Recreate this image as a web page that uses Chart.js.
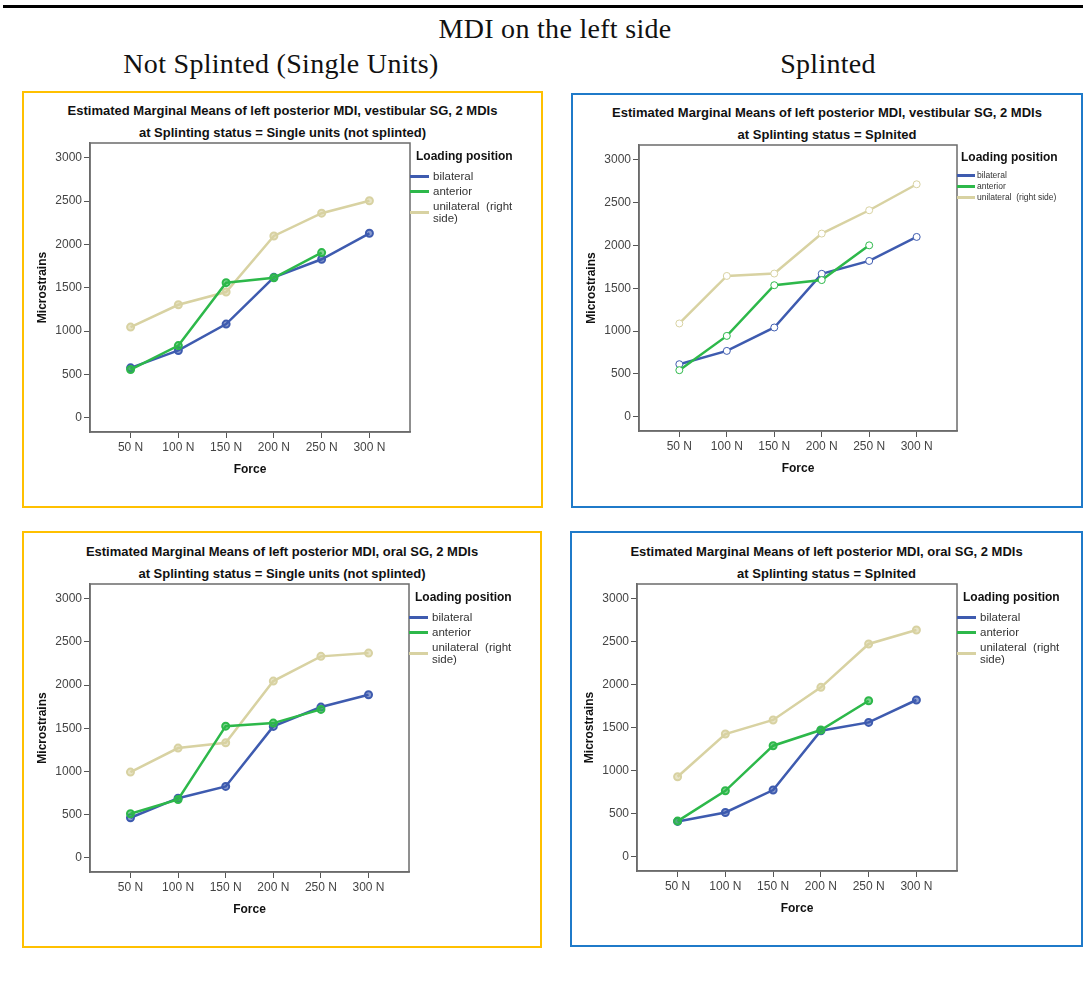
<!DOCTYPE html>
<html>
<head>
<meta charset="utf-8">
<script src="https://cdn.jsdelivr.net/npm/chart.js@4.4.1/dist/chart.umd.min.js"></script>
<style>
  body { margin: 0; background: #fff; }
  #page { position: relative; width: 1083px; height: 990px; overflow: hidden; background: #fff; }
  .bar { position: absolute; left: 3px; top: 5px; width: 1080px; height: 3px; background: #000; }
  .txt { position: absolute; white-space: nowrap; line-height: 1; transform: translate(-50%, -50%); }
  .serif { font-family: "Liberation Serif", "DejaVu Serif", serif; font-size: 28px; letter-spacing: 0.3px; color: #111; }
  .ptitle { font-family: "Liberation Sans", Arial, sans-serif; font-weight: bold; font-size: 13px; color: #111; }
  .panel { position: absolute; box-sizing: border-box; border: 2px solid; }
  canvas { position: absolute; }
  .leg { position: absolute; font-family: "Liberation Sans", Arial, sans-serif; color: #333; white-space: pre; }
  .leg-title { font-weight: bold; font-size: 12px; color: #111; }
  .leg-line { position: absolute; height: 3px; }
</style>
</head>
<body>
<div id="page">
  <div class="bar"></div>
  <div class="txt serif" style="left:555px; top:29px;">MDI on the left side</div>
  <div class="txt serif" style="left:281px; top:64px;">Not Splinted (Single Units)</div>
  <div class="txt serif" style="left:828px; top:64px;">Splinted</div>
</div>

<script>
// ---------------------------
// Data
// ---------------------------
const forceLabels = ['50 N', '100 N', '150 N', '200 N', '250 N', '300 N'];
const yTickValues = [0, 500, 1000, 1500, 2000, 2500, 3000];
const seriesNames = ['bilateral', 'anterior', 'unilateral  (right side)'];
const seriesColors = ['#3E5BAF', '#2DB84A', '#D8D2A2'];

// vestibular SG
const vestSingleBilateral = [575, 776, 1080, 1620, 1828, 2128];
const vestSingleAnterior = [556, 832, 1558, 1615, 1905];
const vestSingleUnilateral = [1046, 1303, 1450, 2097, 2360, 2503];

const vestSplintBilateral = [614, 769, 1042, 1668, 1818, 2098];
const vestSplintAnterior = [544, 944, 1535, 1595, 2000];
const vestSplintUnilateral = [1089, 1643, 1671, 2137, 2409, 2712];

// oral SG
const oralSingleBilateral = [463, 690, 826, 1521, 1745, 1888];
const oralSingleAnterior = [510, 675, 1524, 1559, 1718];
const oralSingleUnilateral = [992, 1270, 1332, 2046, 2332, 2370];

const oralSplintBilateral = [411, 515, 776, 1465, 1562, 1822];
const oralSplintAnterior = [415, 767, 1291, 1473, 1814];
const oralSplintUnilateral = [930, 1427, 1590, 1969, 2473, 2636];

// ---------------------------
// Panels
// ---------------------------
const panels = [
  {
    box: [22, 91, 521, 417], border: '#FFC000', plot: [90, 143, 320, 289], titleY: [110, 132],
    title: 'Estimated Marginal Means of left posterior MDI, vestibular SG, 2 MDIs',
    sub: 'at Splinting status = Single units (not splinted)',
    series: [vestSingleBilateral, vestSingleAnterior, vestSingleUnilateral],
    marker: { r: 3.5, w: 2, fill: true }, smallLegend: false
  },
  {
    box: [571, 93, 512, 415], border: '#1F7AC9', plot: [639, 145, 318, 286], titleY: [112, 134],
    title: 'Estimated Marginal Means of left posterior MDI, vestibular SG, 2 MDIs',
    sub: 'at Splinting status = Splnited',
    series: [vestSplintBilateral, vestSplintAnterior, vestSplintUnilateral],
    marker: { r: 3.5, w: 1, fill: false }, smallLegend: true
  },
  {
    box: [22, 531, 520, 417], border: '#FFC000', plot: [90, 584, 319, 288], titleY: [551, 573],
    title: 'Estimated Marginal Means of left posterior MDI, oral SG, 2 MDIs',
    sub: 'at Splinting status = Single units (not splinted)',
    series: [oralSingleBilateral, oralSingleAnterior, oralSingleUnilateral],
    marker: { r: 3.5, w: 2, fill: true }, smallLegend: false
  },
  {
    box: [570, 531, 513, 416], border: '#1F7AC9', plot: [637, 584, 320, 287], titleY: [551, 573],
    title: 'Estimated Marginal Means of left posterior MDI, oral SG, 2 MDIs',
    sub: 'at Splinting status = Splnited',
    series: [oralSplintBilateral, oralSplintAnterior, oralSplintUnilateral],
    marker: { r: 3.5, w: 2, fill: true }, smallLegend: false
  }
];

const page = document.getElementById('page');

function addDiv(cls, css, text) {
  const d = document.createElement('div');
  d.className = cls;
  d.style.cssText = css;
  if (text) d.textContent = text;
  page.appendChild(d);
  return d;
}

// plot frame (all four sides)
const framePlugin = {
  id: 'frame',
  beforeDatasetsDraw(chart) {
    const a = chart.chartArea, c = chart.ctx;
    c.save();
    c.strokeStyle = '#6b6b6b';
    c.lineWidth = 1.5;
    c.strokeRect(a.left, a.top, a.right - a.left, a.bottom - a.top);
    c.restore();
  }
};

function lighten(hex) {
  return hex + '99';
}

function buildPanel(p) {
  const [bx, by, bw, bh] = p.box;
  addDiv('panel', `left:${bx}px; top:${by}px; width:${bw}px; height:${bh}px; border-color:${p.border};`);
  const cx = bx + bw / 2;
  addDiv('txt ptitle', `left:${cx}px; top:${p.titleY[0]}px;`, p.title);
  addDiv('txt ptitle', `left:${cx}px; top:${p.titleY[1]}px;`, p.sub);

  const [pl, pt, pw, ph] = p.plot;
  const canvas = document.createElement('canvas');
  canvas.width = pw + 80;
  canvas.height = ph + 60;
  canvas.style.left = (pl - 70) + 'px';
  canvas.style.top = (pt - 10) + 'px';
  page.appendChild(canvas);

  const datasets = p.series.map((vals, k) => ({
    label: seriesNames[k],
    data: vals.map((v, i) => ({ x: i, y: v })),
    borderColor: seriesColors[k],
    borderWidth: 2.5,
    pointRadius: p.marker.r,
    pointBorderWidth: p.marker.w,
    pointBorderColor: seriesColors[k],
    pointBackgroundColor: p.marker.fill ? lighten(seriesColors[k]) : '#ffffff',
    tension: 0,
    order: k === 2 ? 3 : (k === 1 ? 1 : 2)
  }));

  new Chart(canvas, {
    type: 'line',
    data: { datasets: datasets },
    options: {
      responsive: false,
      animation: false,
      layout: { padding: { top: 10, right: 10, left: 0, bottom: 0 } },
      plugins: { legend: { display: false }, tooltip: { enabled: false } },
      scales: {
        x: {
          type: 'linear',
          min: -0.85,
          max: 5.85,
          afterBuildTicks: s => { s.ticks = forceLabels.map((_, i) => ({ value: i })); },
          afterFit: s => { s.height = 50; },
          ticks: {
            callback: v => forceLabels[v],
            autoSkip: false, maxRotation: 0,
            color: '#444', padding: 2.5,
            font: { family: 'Liberation Sans, Arial, sans-serif', size: 12 }
          },
          grid: { drawOnChartArea: false, tickLength: 6, color: '#555', lineWidth: 1 },
          border: { display: true, color: '#6b6b6b', width: 1.5 },
          title: {
            display: true, text: 'Force', color: '#111',
            font: { family: 'Liberation Sans, Arial, sans-serif', size: 12, weight: 'bold' },
            padding: { top: 0, bottom: 5 }
          }
        },
        y: {
          min: -165,
          max: 3170,
          afterBuildTicks: s => { s.ticks = yTickValues.map(v => ({ value: v })); },
          afterFit: s => { s.width = 70; },
          ticks: {
            callback: v => String(v),
            color: '#444', padding: 2,
            font: { family: 'Liberation Sans, Arial, sans-serif', size: 12 }
          },
          grid: { drawOnChartArea: false, tickLength: 6, color: '#555', lineWidth: 1 },
          border: { display: true, color: '#6b6b6b', width: 1.5 },
          title: {
            display: true, text: 'Microstrains', color: '#111',
            font: { family: 'Liberation Sans, Arial, sans-serif', size: 12, weight: 'bold' },
            padding: { top: 15, bottom: 0 }
          }
        }
      }
    },
    plugins: [framePlugin]
  });

  // legend to the right of the plot
  const right = pl + pw;
  if (p.smallLegend) {
    addDiv('leg leg-title', `left:${right + 4}px; top:${pt + 5}px;`, 'Loading position');
    const ys = [30, 41, 52];
    seriesNames.forEach((name, k) => {
      addDiv('leg-line', `left:${right}px; top:${pt + ys[k] - 1.5}px; width:18px; background:${seriesColors[k]};`);
      addDiv('leg', `left:${right + 20}px; top:${pt + ys[k] - 5}px; font-size:8.5px; line-height:10px;`, name);
    });
  } else {
    addDiv('leg leg-title', `left:${right + 6}px; top:${pt + 6}px;`, 'Loading position');
    const ys = [33, 48, 69];
    seriesNames.forEach((name, k) => {
      addDiv('leg-line', `left:${right}px; top:${pt + ys[k] - 1.5}px; width:19px; background:${seriesColors[k]};`);
      const d = addDiv('leg', `left:${right + 23}px; font-size:11.5px; line-height:12px;`);
      if (k === 2) {
        d.style.top = (pt + 57) + 'px';
        d.textContent = 'unilateral  (right\nside)';
      } else {
        d.style.top = (pt + ys[k] - 6) + 'px';
        d.textContent = name;
      }
    });
  }
}

document.addEventListener('DOMContentLoaded', () => {
  panels.forEach(buildPanel);
});
</script>
</body>
</html>
